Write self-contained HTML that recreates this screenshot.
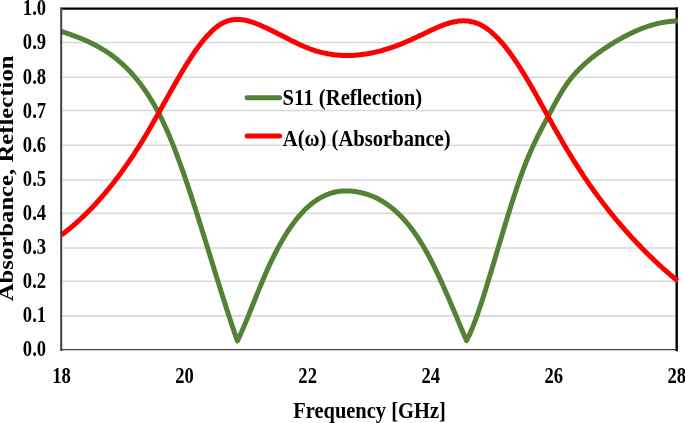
<!DOCTYPE html>
<html><head><meta charset="utf-8"><style>
html,body{margin:0;padding:0;background:#fff;}
body{width:685px;height:423px;overflow:hidden;}
svg{display:block;will-change:transform;}
text{font-family:"Liberation Serif",serif;font-weight:bold;fill:#000;}
</style></head><body>
<svg width="685" height="423" viewBox="0 0 685 423">
<rect width="685" height="423" fill="#fff"/>
<g stroke="#d9d9d9" stroke-width="1.6"><line x1="62.5" x2="676" y1="315.90" y2="315.90"/><line x1="62.5" x2="676" y1="281.30" y2="281.30"/><line x1="62.5" x2="676" y1="248.00" y2="248.00"/><line x1="62.5" x2="676" y1="213.40" y2="213.40"/><line x1="62.5" x2="676" y1="180.00" y2="180.00"/><line x1="62.5" x2="676" y1="145.30" y2="145.30"/><line x1="62.5" x2="676" y1="110.45" y2="110.45"/><line x1="62.5" x2="676" y1="77.27" y2="77.27"/><line x1="62.5" x2="676" y1="42.44" y2="42.44"/></g>
<g fill="none" stroke-linecap="square">
<line x1="62" y1="8.6" x2="676.7" y2="8.6" stroke="#000" stroke-width="2.4"/>
<line x1="676.7" y1="8.6" x2="676.7" y2="350" stroke="#000" stroke-width="2.4"/>
</g>
<g font-size="18.6" text-anchor="end"><text transform="translate(46.1,356.15) scale(1,1.22)">0.0</text><text transform="translate(46.1,322.07) scale(1,1.22)">0.1</text><text transform="translate(46.1,287.99) scale(1,1.22)">0.2</text><text transform="translate(46.1,253.91) scale(1,1.22)">0.3</text><text transform="translate(46.1,219.83) scale(1,1.22)">0.4</text><text transform="translate(46.1,185.75) scale(1,1.22)">0.5</text><text transform="translate(46.1,151.67) scale(1,1.22)">0.6</text><text transform="translate(46.1,117.59) scale(1,1.22)">0.7</text><text transform="translate(46.1,83.51) scale(1,1.22)">0.8</text><text transform="translate(46.1,49.43) scale(1,1.22)">0.9</text><text transform="translate(46.1,15.35) scale(1,1.22)">1.0</text></g>
<g font-size="18.6" text-anchor="middle"><text transform="translate(61.50,382.6) scale(1,1.22)">18</text><text transform="translate(184.56,382.6) scale(1,1.22)">20</text><text transform="translate(307.62,382.6) scale(1,1.22)">22</text><text transform="translate(430.68,382.6) scale(1,1.22)">24</text><text transform="translate(553.74,382.6) scale(1,1.22)">26</text><text transform="translate(676.80,382.6) scale(1,1.22)">28</text></g>
<text transform="translate(369.5,417.8) scale(1,1.13)" font-size="20.5" text-anchor="middle">Frequency [GHz]</text>
<text transform="translate(13.4,178.4) rotate(-90) scale(1.14,1)" font-size="21.7" text-anchor="middle">Absorbance, Reflection</text>
<g fill="none" stroke-width="5" stroke-linejoin="round" stroke-linecap="butt">
<path d="M61.5,31.4 L62.5,31.7 L63.5,32.1 L64.5,32.4 L65.5,32.8 L66.5,33.1 L67.5,33.5 L68.5,33.8 L69.5,34.2 L70.5,34.5 L71.5,34.9 L72.5,35.3 L73.5,35.6 L74.5,36.0 L75.5,36.4 L76.5,36.8 L77.5,37.1 L78.5,37.5 L79.5,37.9 L80.5,38.3 L81.5,38.7 L82.5,39.1 L83.5,39.6 L84.5,40.0 L85.5,40.4 L86.5,40.9 L87.5,41.3 L88.5,41.8 L89.5,42.2 L90.5,42.7 L91.5,43.2 L92.5,43.7 L93.5,44.2 L94.5,44.7 L95.5,45.2 L96.5,45.7 L97.5,46.3 L98.5,46.8 L99.5,47.4 L100.5,48.0 L101.5,48.6 L102.5,49.2 L103.5,49.8 L104.5,50.4 L105.5,51.0 L106.5,51.7 L107.5,52.3 L108.5,53.0 L109.5,53.7 L110.5,54.4 L111.5,55.1 L112.5,55.9 L113.5,56.6 L114.5,57.4 L115.5,58.2 L116.5,59.0 L117.5,59.8 L118.5,60.7 L119.5,61.5 L120.5,62.4 L121.5,63.3 L122.5,64.2 L123.5,65.1 L124.5,66.1 L125.5,67.0 L126.5,68.0 L127.5,69.0 L128.5,70.0 L129.5,71.1 L130.5,72.1 L131.5,73.2 L132.5,74.3 L133.5,75.5 L134.5,76.6 L135.5,77.8 L136.5,79.0 L137.5,80.2 L138.5,81.5 L139.5,82.7 L140.5,84.0 L141.5,85.4 L142.5,86.7 L143.5,88.1 L144.5,89.5 L145.5,91.0 L146.5,92.4 L147.5,94.0 L148.5,95.5 L149.5,97.1 L150.5,98.7 L151.5,100.3 L152.5,102.0 L153.5,103.7 L154.5,105.4 L155.5,107.2 L156.5,109.0 L157.5,110.9 L158.5,112.8 L159.5,114.7 L160.5,116.7 L161.5,118.7 L162.5,120.7 L163.5,122.8 L164.5,125.0 L165.5,127.2 L166.5,129.4 L167.5,131.6 L168.5,134.0 L169.5,136.3 L170.5,138.7 L171.5,141.1 L172.5,143.6 L173.5,146.1 L174.5,148.7 L175.5,151.3 L176.5,153.9 L177.5,156.6 L178.5,159.3 L179.5,162.0 L180.5,164.8 L181.5,167.6 L182.5,170.4 L183.5,173.2 L184.5,176.1 L185.5,179.0 L186.5,181.9 L187.5,184.9 L188.5,187.9 L189.5,190.9 L190.5,193.9 L191.5,196.9 L192.5,200.0 L193.5,203.1 L194.5,206.2 L195.5,209.3 L196.5,212.4 L197.5,215.6 L198.5,218.7 L199.5,221.9 L200.5,225.1 L201.5,228.3 L202.5,231.5 L203.5,234.7 L204.5,237.9 L205.5,241.1 L206.5,244.4 L207.5,247.6 L208.5,250.8 L209.5,254.1 L210.5,257.3 L211.5,260.5 L212.5,263.8 L213.5,267.0 L214.5,270.2 L215.5,273.5 L216.5,276.7 L217.5,279.9 L218.5,283.1 L219.5,286.3 L220.5,289.5 L221.5,292.7 L222.5,295.8 L223.5,299.0 L224.5,302.1 L225.5,305.3 L226.5,308.4 L227.5,311.5 L228.5,314.5 L229.5,317.6 L230.5,320.6 L231.5,323.7 L232.5,326.7 L233.5,329.6 L234.5,332.6 L235.5,335.5 L236.5,338.4 L237.4,341.0 L238.4,338.9 L239.4,336.7 L240.4,334.5 L241.4,332.3 L242.4,330.0 L243.4,327.7 L244.4,325.3 L245.4,323.0 L246.4,320.6 L247.4,318.1 L248.4,315.7 L249.4,313.2 L250.4,310.8 L251.4,308.3 L252.4,305.8 L253.4,303.3 L254.4,300.8 L255.4,298.3 L256.4,295.8 L257.4,293.3 L258.4,290.9 L259.4,288.4 L260.4,286.0 L261.4,283.6 L262.4,281.2 L263.4,278.8 L264.4,276.4 L265.4,274.1 L266.4,271.9 L267.4,269.6 L268.4,267.4 L269.4,265.2 L270.4,263.1 L271.4,261.0 L272.4,258.9 L273.4,256.9 L274.4,254.9 L275.4,252.9 L276.4,251.0 L277.4,249.1 L278.4,247.2 L279.4,245.4 L280.4,243.6 L281.4,241.8 L282.4,240.1 L283.4,238.4 L284.4,236.7 L285.4,235.1 L286.4,233.5 L287.4,231.9 L288.4,230.4 L289.4,228.9 L290.4,227.4 L291.4,226.0 L292.4,224.6 L293.4,223.2 L294.4,221.9 L295.4,220.6 L296.4,219.3 L297.4,218.1 L298.4,216.9 L299.4,215.7 L300.4,214.6 L301.4,213.4 L302.4,212.4 L303.4,211.3 L304.4,210.3 L305.4,209.3 L306.4,208.3 L307.4,207.4 L308.4,206.5 L309.4,205.6 L310.4,204.8 L311.4,204.0 L312.4,203.2 L313.4,202.4 L314.4,201.7 L315.4,201.0 L316.4,200.3 L317.4,199.6 L318.4,199.0 L319.4,198.4 L320.4,197.8 L321.4,197.2 L322.4,196.7 L323.4,196.2 L324.4,195.7 L325.4,195.3 L326.4,194.9 L327.4,194.4 L328.4,194.1 L329.4,193.7 L330.4,193.4 L331.4,193.1 L332.4,192.8 L333.4,192.5 L334.4,192.2 L335.4,192.0 L336.4,191.8 L337.4,191.6 L338.4,191.5 L339.4,191.3 L340.4,191.2 L341.4,191.1 L342.4,191.0 L343.4,190.9 L344.4,190.9 L345.4,190.9 L346.4,190.9 L347.4,190.9 L348.4,190.9 L349.4,190.9 L350.4,191.0 L351.4,191.1 L352.4,191.2 L353.4,191.3 L354.4,191.4 L355.4,191.5 L356.4,191.7 L357.4,191.9 L358.4,192.1 L359.4,192.3 L360.4,192.5 L361.4,192.7 L362.4,193.0 L363.4,193.2 L364.4,193.5 L365.4,193.8 L366.4,194.1 L367.4,194.4 L368.4,194.8 L369.4,195.1 L370.4,195.5 L371.4,195.9 L372.4,196.3 L373.4,196.7 L374.4,197.1 L375.4,197.6 L376.4,198.1 L377.4,198.6 L378.4,199.1 L379.4,199.6 L380.4,200.2 L381.4,200.7 L382.4,201.3 L383.4,201.9 L384.4,202.6 L385.4,203.2 L386.4,203.9 L387.4,204.6 L388.4,205.3 L389.4,206.0 L390.4,206.8 L391.4,207.6 L392.4,208.4 L393.4,209.2 L394.4,210.1 L395.4,211.0 L396.4,211.9 L397.4,212.8 L398.4,213.7 L399.4,214.7 L400.4,215.7 L401.4,216.7 L402.4,217.8 L403.4,218.9 L404.4,220.0 L405.4,221.1 L406.4,222.3 L407.4,223.5 L408.4,224.7 L409.4,225.9 L410.4,227.2 L411.4,228.5 L412.4,229.8 L413.4,231.2 L414.4,232.6 L415.4,234.0 L416.4,235.5 L417.4,236.9 L418.4,238.5 L419.4,240.0 L420.4,241.6 L421.4,243.2 L422.4,244.8 L423.4,246.5 L424.4,248.2 L425.4,249.9 L426.4,251.7 L427.4,253.5 L428.4,255.3 L429.4,257.2 L430.4,259.1 L431.4,261.0 L432.4,263.0 L433.4,265.0 L434.4,267.0 L435.4,269.1 L436.4,271.2 L437.4,273.3 L438.4,275.4 L439.4,277.5 L440.4,279.7 L441.4,281.9 L442.4,284.1 L443.4,286.4 L444.4,288.6 L445.4,290.9 L446.4,293.2 L447.4,295.5 L448.4,297.8 L449.4,300.1 L450.4,302.4 L451.4,304.8 L452.4,307.2 L453.4,309.5 L454.4,311.9 L455.4,314.3 L456.4,316.6 L457.4,319.0 L458.4,321.4 L459.4,323.8 L460.4,326.2 L461.4,328.6 L462.4,331.0 L463.4,333.3 L464.4,335.7 L465.4,338.1 L466.4,340.5 L466.5,340.7 L467.5,338.8 L468.5,336.7 L469.5,334.6 L470.5,332.4 L471.5,330.0 L472.5,327.6 L473.5,325.1 L474.5,322.5 L475.5,319.9 L476.5,317.1 L477.5,314.3 L478.5,311.5 L479.5,308.5 L480.5,305.5 L481.5,302.5 L482.5,299.4 L483.5,296.3 L484.5,293.1 L485.5,289.9 L486.5,286.6 L487.5,283.3 L488.5,280.1 L489.5,276.8 L490.5,273.5 L491.5,270.2 L492.5,266.8 L493.5,263.5 L494.5,260.2 L495.5,256.8 L496.5,253.5 L497.5,250.1 L498.5,246.8 L499.5,243.4 L500.5,240.1 L501.5,236.7 L502.5,233.4 L503.5,230.1 L504.5,226.8 L505.5,223.5 L506.5,220.2 L507.5,216.9 L508.5,213.7 L509.5,210.5 L510.5,207.3 L511.5,204.1 L512.5,201.0 L513.5,197.8 L514.5,194.8 L515.5,191.7 L516.5,188.7 L517.5,185.8 L518.5,182.8 L519.5,180.0 L520.5,177.1 L521.5,174.3 L522.5,171.6 L523.5,168.9 L524.5,166.3 L525.5,163.7 L526.5,161.2 L527.5,158.7 L528.5,156.3 L529.5,154.0 L530.5,151.7 L531.5,149.4 L532.5,147.2 L533.5,145.0 L534.5,142.9 L535.5,140.8 L536.5,138.7 L537.5,136.7 L538.5,134.7 L539.5,132.8 L540.5,130.8 L541.5,128.9 L542.5,127.0 L543.5,125.1 L544.5,123.2 L545.5,121.4 L546.5,119.5 L547.5,117.6 L548.5,115.7 L549.5,113.8 L550.5,111.9 L551.5,110.0 L552.5,108.1 L553.5,106.3 L554.5,104.4 L555.5,102.6 L556.5,100.7 L557.5,98.9 L558.5,97.2 L559.5,95.4 L560.5,93.7 L561.5,92.1 L562.5,90.4 L563.5,88.9 L564.5,87.3 L565.5,85.8 L566.5,84.4 L567.5,83.0 L568.5,81.6 L569.5,80.3 L570.5,79.0 L571.5,77.7 L572.5,76.5 L573.5,75.3 L574.5,74.2 L575.5,73.1 L576.5,72.0 L577.5,70.9 L578.5,69.9 L579.5,68.8 L580.5,67.9 L581.5,66.9 L582.5,65.9 L583.5,65.0 L584.5,64.1 L585.5,63.2 L586.5,62.3 L587.5,61.4 L588.5,60.6 L589.5,59.7 L590.5,58.9 L591.5,58.1 L592.5,57.3 L593.5,56.5 L594.5,55.7 L595.5,55.0 L596.5,54.2 L597.5,53.5 L598.5,52.8 L599.5,52.1 L600.5,51.4 L601.5,50.7 L602.5,50.0 L603.5,49.3 L604.5,48.6 L605.5,47.9 L606.5,47.3 L607.5,46.6 L608.5,46.0 L609.5,45.3 L610.5,44.7 L611.5,44.1 L612.5,43.5 L613.5,42.8 L614.5,42.2 L615.5,41.6 L616.5,41.0 L617.5,40.5 L618.5,39.9 L619.5,39.3 L620.5,38.7 L621.5,38.2 L622.5,37.6 L623.5,37.1 L624.5,36.5 L625.5,36.0 L626.5,35.5 L627.5,35.0 L628.5,34.5 L629.5,34.0 L630.5,33.5 L631.5,33.0 L632.5,32.5 L633.5,32.1 L634.5,31.6 L635.5,31.1 L636.5,30.7 L637.5,30.3 L638.5,29.9 L639.5,29.4 L640.5,29.0 L641.5,28.6 L642.5,28.2 L643.5,27.9 L644.5,27.5 L645.5,27.1 L646.5,26.8 L647.5,26.4 L648.5,26.1 L649.5,25.8 L650.5,25.5 L651.5,25.2 L652.5,24.9 L653.5,24.6 L654.5,24.3 L655.5,24.1 L656.5,23.8 L657.5,23.6 L658.5,23.3 L659.5,23.1 L660.5,22.9 L661.5,22.7 L662.5,22.5 L663.5,22.4 L664.5,22.2 L665.5,22.0 L666.5,21.9 L667.5,21.8 L668.5,21.6 L669.5,21.5 L670.5,21.4 L671.5,21.3 L672.5,21.3 L673.5,21.2 L674.5,21.1 L675.5,21.1 L676.5,21.1 L677.5,21.1 L677.8,21.1" stroke="#548235"/>
<path d="M61.5,234.9 L62.5,234.2 L63.5,233.4 L64.5,232.7 L65.5,231.9 L66.5,231.1 L67.5,230.3 L68.5,229.5 L69.5,228.7 L70.5,227.9 L71.5,227.0 L72.5,226.2 L73.5,225.3 L74.5,224.5 L75.5,223.6 L76.5,222.7 L77.5,221.8 L78.5,220.9 L79.5,220.0 L80.5,219.1 L81.5,218.1 L82.5,217.2 L83.5,216.2 L84.5,215.3 L85.5,214.3 L86.5,213.3 L87.5,212.3 L88.5,211.3 L89.5,210.3 L90.5,209.3 L91.5,208.2 L92.5,207.2 L93.5,206.1 L94.5,205.0 L95.5,204.0 L96.5,202.9 L97.5,201.8 L98.5,200.7 L99.5,199.5 L100.5,198.4 L101.5,197.3 L102.5,196.1 L103.5,195.0 L104.5,193.8 L105.5,192.6 L106.5,191.4 L107.5,190.2 L108.5,189.0 L109.5,187.7 L110.5,186.5 L111.5,185.2 L112.5,184.0 L113.5,182.7 L114.5,181.4 L115.5,180.1 L116.5,178.8 L117.5,177.5 L118.5,176.2 L119.5,174.8 L120.5,173.5 L121.5,172.1 L122.5,170.7 L123.5,169.3 L124.5,167.9 L125.5,166.5 L126.5,165.1 L127.5,163.6 L128.5,162.2 L129.5,160.7 L130.5,159.3 L131.5,157.8 L132.5,156.3 L133.5,154.8 L134.5,153.3 L135.5,151.7 L136.5,150.2 L137.5,148.6 L138.5,147.1 L139.5,145.5 L140.5,143.9 L141.5,142.3 L142.5,140.7 L143.5,139.0 L144.5,137.4 L145.5,135.7 L146.5,134.1 L147.5,132.4 L148.5,130.7 L149.5,129.0 L150.5,127.3 L151.5,125.6 L152.5,123.8 L153.5,122.1 L154.5,120.3 L155.5,118.6 L156.5,116.8 L157.5,115.0 L158.5,113.2 L159.5,111.5 L160.5,109.7 L161.5,107.9 L162.5,106.1 L163.5,104.3 L164.5,102.5 L165.5,100.7 L166.5,98.9 L167.5,97.1 L168.5,95.4 L169.5,93.6 L170.5,91.8 L171.5,90.0 L172.5,88.2 L173.5,86.5 L174.5,84.7 L175.5,83.0 L176.5,81.2 L177.5,79.5 L178.5,77.8 L179.5,76.1 L180.5,74.4 L181.5,72.7 L182.5,71.0 L183.5,69.3 L184.5,67.7 L185.5,66.1 L186.5,64.5 L187.5,62.9 L188.5,61.3 L189.5,59.7 L190.5,58.2 L191.5,56.6 L192.5,55.1 L193.5,53.6 L194.5,52.2 L195.5,50.7 L196.5,49.3 L197.5,47.9 L198.5,46.6 L199.5,45.2 L200.5,43.9 L201.5,42.6 L202.5,41.4 L203.5,40.1 L204.5,38.9 L205.5,37.8 L206.5,36.6 L207.5,35.5 L208.5,34.4 L209.5,33.4 L210.5,32.4 L211.5,31.4 L212.5,30.5 L213.5,29.5 L214.5,28.7 L215.5,27.8 L216.5,27.1 L217.5,26.3 L218.5,25.6 L219.5,24.9 L220.5,24.3 L221.5,23.7 L222.5,23.2 L223.5,22.6 L224.5,22.2 L225.5,21.8 L226.5,21.4 L227.5,21.0 L228.5,20.7 L229.5,20.4 L230.5,20.2 L231.5,20.0 L232.5,19.8 L233.5,19.7 L234.5,19.6 L235.5,19.5 L236.5,19.5 L237.5,19.5 L238.5,19.5 L239.5,19.5 L240.5,19.6 L241.5,19.7 L242.5,19.8 L243.5,20.0 L244.5,20.1 L245.5,20.3 L246.5,20.5 L247.5,20.8 L248.5,21.0 L249.5,21.3 L250.5,21.6 L251.5,21.9 L252.5,22.2 L253.5,22.6 L254.5,22.9 L255.5,23.3 L256.5,23.7 L257.5,24.1 L258.5,24.5 L259.5,24.9 L260.5,25.3 L261.5,25.8 L262.5,26.2 L263.5,26.7 L264.5,27.1 L265.5,27.6 L266.5,28.0 L267.5,28.5 L268.5,29.0 L269.5,29.5 L270.5,30.0 L271.5,30.5 L272.5,31.0 L273.5,31.5 L274.5,32.0 L275.5,32.5 L276.5,33.0 L277.5,33.5 L278.5,34.0 L279.5,34.5 L280.5,35.0 L281.5,35.6 L282.5,36.1 L283.5,36.6 L284.5,37.1 L285.5,37.6 L286.5,38.1 L287.5,38.6 L288.5,39.1 L289.5,39.6 L290.5,40.2 L291.5,40.7 L292.5,41.1 L293.5,41.6 L294.5,42.1 L295.5,42.6 L296.5,43.1 L297.5,43.6 L298.5,44.0 L299.5,44.5 L300.5,45.0 L301.5,45.4 L302.5,45.8 L303.5,46.3 L304.5,46.7 L305.5,47.1 L306.5,47.5 L307.5,47.9 L308.5,48.3 L309.5,48.7 L310.5,49.1 L311.5,49.4 L312.5,49.8 L313.5,50.1 L314.5,50.4 L315.5,50.8 L316.5,51.1 L317.5,51.4 L318.5,51.6 L319.5,51.9 L320.5,52.2 L321.5,52.4 L322.5,52.7 L323.5,52.9 L324.5,53.1 L325.5,53.3 L326.5,53.5 L327.5,53.7 L328.5,53.9 L329.5,54.1 L330.5,54.2 L331.5,54.4 L332.5,54.5 L333.5,54.7 L334.5,54.8 L335.5,54.9 L336.5,55.0 L337.5,55.1 L338.5,55.2 L339.5,55.3 L340.5,55.3 L341.5,55.4 L342.5,55.4 L343.5,55.5 L344.5,55.5 L345.5,55.5 L346.5,55.5 L347.5,55.5 L348.5,55.5 L349.5,55.5 L350.5,55.5 L351.5,55.4 L352.5,55.4 L353.5,55.3 L354.5,55.3 L355.5,55.2 L356.5,55.1 L357.5,55.0 L358.5,54.9 L359.5,54.8 L360.5,54.7 L361.5,54.6 L362.5,54.5 L363.5,54.3 L364.5,54.2 L365.5,54.1 L366.5,53.9 L367.5,53.7 L368.5,53.5 L369.5,53.4 L370.5,53.2 L371.5,53.0 L372.5,52.8 L373.5,52.6 L374.5,52.3 L375.5,52.1 L376.5,51.9 L377.5,51.6 L378.5,51.4 L379.5,51.1 L380.5,50.9 L381.5,50.6 L382.5,50.3 L383.5,50.0 L384.5,49.7 L385.5,49.4 L386.5,49.1 L387.5,48.8 L388.5,48.5 L389.5,48.2 L390.5,47.8 L391.5,47.5 L392.5,47.2 L393.5,46.8 L394.5,46.5 L395.5,46.1 L396.5,45.7 L397.5,45.3 L398.5,45.0 L399.5,44.6 L400.5,44.2 L401.5,43.8 L402.5,43.4 L403.5,43.0 L404.5,42.5 L405.5,42.1 L406.5,41.7 L407.5,41.3 L408.5,40.8 L409.5,40.4 L410.5,40.0 L411.5,39.5 L412.5,39.1 L413.5,38.6 L414.5,38.1 L415.5,37.7 L416.5,37.2 L417.5,36.8 L418.5,36.3 L419.5,35.8 L420.5,35.3 L421.5,34.9 L422.5,34.4 L423.5,33.9 L424.5,33.4 L425.5,33.0 L426.5,32.5 L427.5,32.0 L428.5,31.5 L429.5,31.1 L430.5,30.6 L431.5,30.1 L432.5,29.6 L433.5,29.2 L434.5,28.7 L435.5,28.3 L436.5,27.8 L437.5,27.4 L438.5,27.0 L439.5,26.5 L440.5,26.1 L441.5,25.7 L442.5,25.3 L443.5,25.0 L444.5,24.6 L445.5,24.2 L446.5,23.9 L447.5,23.6 L448.5,23.3 L449.5,23.0 L450.5,22.7 L451.5,22.4 L452.5,22.2 L453.5,22.0 L454.5,21.8 L455.5,21.6 L456.5,21.4 L457.5,21.3 L458.5,21.1 L459.5,21.0 L460.5,20.9 L461.5,20.9 L462.5,20.8 L463.5,20.8 L464.5,20.8 L465.5,20.9 L466.5,20.9 L467.5,21.0 L468.5,21.1 L469.5,21.3 L470.5,21.5 L471.5,21.7 L472.5,21.9 L473.5,22.1 L474.5,22.4 L475.5,22.7 L476.5,23.1 L477.5,23.5 L478.5,23.9 L479.5,24.3 L480.5,24.8 L481.5,25.3 L482.5,25.9 L483.5,26.4 L484.5,27.0 L485.5,27.7 L486.5,28.4 L487.5,29.1 L488.5,29.8 L489.5,30.6 L490.5,31.4 L491.5,32.3 L492.5,33.2 L493.5,34.1 L494.5,35.0 L495.5,36.0 L496.5,37.0 L497.5,38.0 L498.5,39.0 L499.5,40.1 L500.5,41.2 L501.5,42.3 L502.5,43.5 L503.5,44.7 L504.5,45.9 L505.5,47.1 L506.5,48.4 L507.5,49.7 L508.5,51.0 L509.5,52.3 L510.5,53.7 L511.5,55.1 L512.5,56.5 L513.5,57.9 L514.5,59.4 L515.5,60.8 L516.5,62.3 L517.5,63.8 L518.5,65.4 L519.5,66.9 L520.5,68.5 L521.5,70.1 L522.5,71.7 L523.5,73.3 L524.5,74.9 L525.5,76.6 L526.5,78.3 L527.5,79.9 L528.5,81.6 L529.5,83.3 L530.5,85.1 L531.5,86.8 L532.5,88.5 L533.5,90.3 L534.5,92.1 L535.5,93.8 L536.5,95.6 L537.5,97.4 L538.5,99.2 L539.5,101.0 L540.5,102.8 L541.5,104.6 L542.5,106.4 L543.5,108.2 L544.5,110.0 L545.5,111.8 L546.5,113.6 L547.5,115.4 L548.5,117.2 L549.5,119.0 L550.5,120.8 L551.5,122.6 L552.5,124.4 L553.5,126.2 L554.5,128.0 L555.5,129.8 L556.5,131.5 L557.5,133.3 L558.5,135.1 L559.5,136.8 L560.5,138.5 L561.5,140.3 L562.5,142.0 L563.5,143.7 L564.5,145.4 L565.5,147.1 L566.5,148.7 L567.5,150.4 L568.5,152.1 L569.5,153.7 L570.5,155.3 L571.5,157.0 L572.5,158.6 L573.5,160.2 L574.5,161.8 L575.5,163.4 L576.5,165.0 L577.5,166.5 L578.5,168.1 L579.5,169.7 L580.5,171.2 L581.5,172.7 L582.5,174.2 L583.5,175.8 L584.5,177.3 L585.5,178.7 L586.5,180.2 L587.5,181.7 L588.5,183.1 L589.5,184.6 L590.5,186.0 L591.5,187.4 L592.5,188.9 L593.5,190.3 L594.5,191.7 L595.5,193.0 L596.5,194.4 L597.5,195.8 L598.5,197.1 L599.5,198.5 L600.5,199.8 L601.5,201.1 L602.5,202.4 L603.5,203.8 L604.5,205.0 L605.5,206.3 L606.5,207.6 L607.5,208.9 L608.5,210.1 L609.5,211.4 L610.5,212.7 L611.5,213.9 L612.5,215.1 L613.5,216.3 L614.5,217.6 L615.5,218.8 L616.5,220.0 L617.5,221.2 L618.5,222.3 L619.5,223.5 L620.5,224.7 L621.5,225.8 L622.5,227.0 L623.5,228.1 L624.5,229.3 L625.5,230.4 L626.5,231.5 L627.5,232.7 L628.5,233.8 L629.5,234.9 L630.5,236.0 L631.5,237.1 L632.5,238.2 L633.5,239.3 L634.5,240.3 L635.5,241.4 L636.5,242.5 L637.5,243.5 L638.5,244.6 L639.5,245.6 L640.5,246.6 L641.5,247.7 L642.5,248.7 L643.5,249.7 L644.5,250.7 L645.5,251.7 L646.5,252.7 L647.5,253.7 L648.5,254.7 L649.5,255.7 L650.5,256.7 L651.5,257.6 L652.5,258.6 L653.5,259.6 L654.5,260.5 L655.5,261.5 L656.5,262.4 L657.5,263.3 L658.5,264.3 L659.5,265.2 L660.5,266.1 L661.5,267.0 L662.5,267.9 L663.5,268.8 L664.5,269.7 L665.5,270.6 L666.5,271.5 L667.5,272.3 L668.5,273.2 L669.5,274.1 L670.5,274.9 L671.5,275.8 L672.5,276.6 L673.5,277.5 L674.5,278.3 L675.5,279.1 L676.5,279.9 L677.5,280.8 L677.8,281.0" stroke="#ff0000"/>
</g>
<g fill="none" stroke-linecap="square">
<line x1="61.2" y1="8.4" x2="61.2" y2="350" stroke="#404040" stroke-width="2"/>
<line x1="61.2" y1="349.6" x2="676" y2="349.6" stroke="#404040" stroke-width="1.3"/>
</g>
<g stroke-width="5" stroke-linecap="round">
<line x1="247.1" y1="97.8" x2="279.6" y2="97.8" stroke="#548235"/>
<line x1="247.1" y1="135.9" x2="279.6" y2="135.9" stroke="#ff0000"/>
</g>
<text transform="translate(282.6,104.5) scale(1,1.12)" font-size="20.7">S11 (Reflection)</text>
<text transform="translate(282.8,145.6) scale(1,1.12)" font-size="20.6">A(ω) (Absorbance)</text>
</svg>
</body></html>
